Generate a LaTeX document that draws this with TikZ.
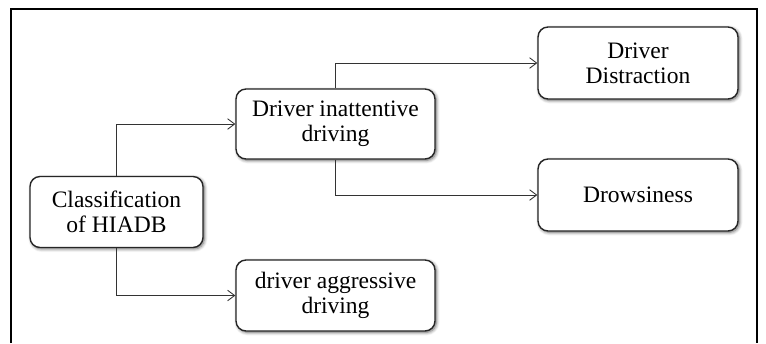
\documentclass[tikz,border=0pt]{standalone}
\usepackage{fontspec}
\setmainfont{Liberation Serif}
\usetikzlibrary{arrows.meta,shadows.blur}
\newcommand{\bx}[5]{\node[hbox, minimum width=#3cm, minimum height=#4cm] (#1) at (#2) {#5};}

\begin{document}
\begin{tikzpicture}[x=0.02cm, y=-0.02cm,
    hbox/.style={draw=black!85, line width=0.8pt, rounded corners=0.2cm, fill=white, align=center,
      blur shadow={shadow xshift=0.8pt, shadow yshift=-0.8pt, shadow blur steps=6, shadow opacity=60},
      font=\fontsize{13.4}{14.2}\selectfont, inner sep=0pt},
    link/.style={draw=black!80, line width=0.5pt, -{Straight Barb[length=4pt,width=6pt]}}]
  \useasboundingbox (0,0) rectangle (766,343);
  \draw[line width=1pt] (11,343) -- (11,9) -- (757,9) -- (757,343);
  \bx{class}{116.5,212}{3.46}{1.42}{Classification\\of HIADB}
  \bx{inatt}{335.5,124}{3.98}{1.40}{Driver inattentive\\driving}
  \bx{aggr}{335.5,295.5}{3.98}{1.42}{driver aggressive\\driving}
  \bx{distr}{638,63}{4.00}{1.44}{Driver\\Distraction}
  \bx{drows}{638,195}{4.00}{1.44}{Drowsiness}
  \draw[link] (class.north) |- (inatt.west);
  \draw[link] (class.south) |- (aggr.west);
  \draw[link] (inatt.north) |- (distr.west);
  \draw[link] (inatt.south) |- (drows.west);
\end{tikzpicture}
\end{document}
